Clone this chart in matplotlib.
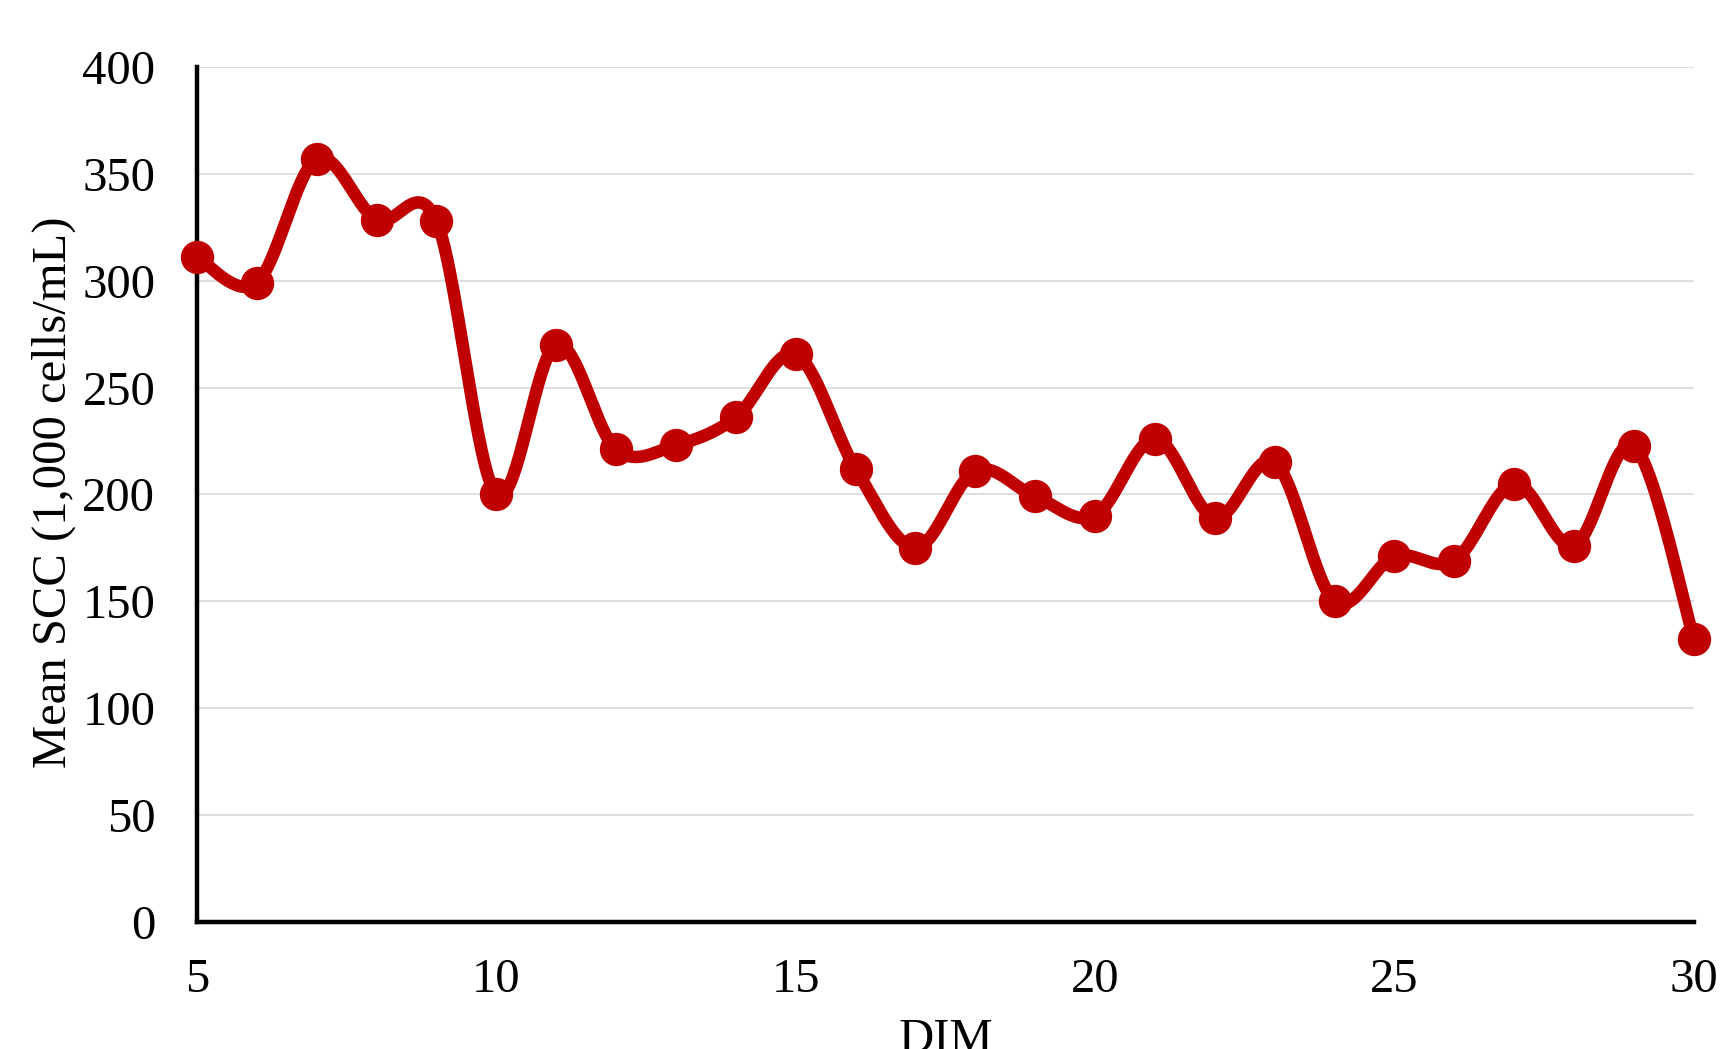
import numpy as np
import matplotlib
matplotlib.use("Agg")
import matplotlib.pyplot as plt

# Mean somatic cell count by days in milk
dim = [5, 6, 7, 8, 9, 10, 11, 12, 13, 14, 15, 16, 17, 18, 19, 20, 21, 22, 23, 24, 25, 26, 27, 28, 29, 30]
mean_scc = [311, 299, 357, 328.5, 328, 200, 270, 221, 223, 236, 265.5, 212, 175, 211, 199, 190,
            226, 189, 215, 150, 171, 169, 205, 176, 222.5, 132.5]
x_ticks = [5, 10, 15, 20, 25, 30]
y_ticks = [0, 50, 100, 150, 200, 250, 300, 350, 400]

line_color = "#C00000"


def smooth_curve(xs, ys, n=40):
    """Cubic Bezier smoothing through every point (Catmull-Rom style control points)."""
    p = np.column_stack([xs, ys]).astype(float)
    pad = np.vstack([p[0], p, p[-1]])
    t = np.linspace(0, 1, n)[:, None]
    out = []
    for i in range(len(p) - 1):
        p0, p1, p2, p3 = pad[i], pad[i + 1], pad[i + 2], pad[i + 3]
        c1 = p1 + (p2 - p0) / 6.0
        c2 = p2 - (p3 - p1) / 6.0
        seg = ((1 - t) ** 3) * p1 + 3 * ((1 - t) ** 2) * t * c1 + 3 * (1 - t) * t ** 2 * c2 + t ** 3 * p2
        out.append(seg if i == 0 else seg[1:])
    seg = np.vstack(out)
    return seg[:, 0], seg[:, 1]


plt.rcParams["font.family"] = ["Liberation Serif", "DejaVu Serif"]

fig = plt.figure(figsize=(17.2, 10.49), dpi=100)
ax = fig.add_axes([0.1145, 0.1214, 0.8703, 0.8147])

sx, sy = smooth_curve(dim, mean_scc)
ax.plot(sx, sy, color=line_color, linewidth=9, solid_capstyle="round",
        solid_joinstyle="round", clip_on=False, zorder=3)
ax.plot(dim, mean_scc, linestyle="none", marker="o", markersize=23,
        color=line_color, clip_on=False, zorder=4)

ax.set_xlim(5, 30)
ax.set_ylim(0, 400)
ax.set_xticks(x_ticks)
ax.set_yticks(y_ticks)
ax.tick_params(axis="both", length=0, labelsize=35)
ax.tick_params(axis="y", pad=30)
ax.tick_params(axis="x", pad=26)

ax.yaxis.grid(True, color="#d9d9d9", linewidth=1.2)
ax.set_axisbelow(True)

for side in ("top", "right"):
    ax.spines[side].set_visible(False)
for side in ("left", "bottom"):
    ax.spines[side].set_linewidth(3.2)
    ax.spines[side].set_color("black")
    ax.spines[side].set_zorder(2)

ax.set_ylabel("Mean SCC (1,000 cells/mL)", fontsize=35)
ax.yaxis.set_label_coords(-0.0955, 0.503)
ax.yaxis.label.set_verticalalignment("center")

ax.set_xlabel("DIM", fontsize=35)
ax.xaxis.set_label_coords(0.5, -0.139)
ax.xaxis.label.set_verticalalignment("center")

fig.savefig("out.png", dpi=100)
